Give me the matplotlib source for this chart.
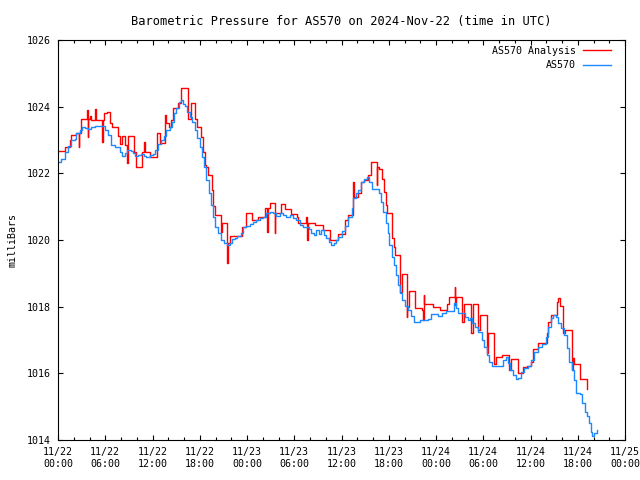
#!/usr/bin/env python3
# Barometric pressure chart for AS570, station obs vs analysis (step lines)

import matplotlib
matplotlib.use("Agg")
import matplotlib.pyplot as plt
import matplotlib.dates as mdates
import pandas as pd
import numpy as np

start = pd.Timestamp("2024-11-22 00:00")
end = pd.Timestamp("2024-11-25 00:00")

# station obs: hours after 11/22 00:00 UTC, pressure in mb
obs_hours = [0.00, 0.42, 0.85, 1.27, 1.61, 2.12, 2.33, 2.75, 3.05, 3.39, 3.81, 4.15,
             4.66, 5.80, 6.01, 6.35, 6.77, 7.20, 7.62, 7.83, 8.13, 8.47, 8.80, 9.23,
             9.52, 9.82, 10.16, 10.58, 10.92, 11.22, 11.64, 12.06, 12.36, 12.70, 13.12, 13.46,
             13.76, 14.18, 14.48, 14.73, 15.03, 15.32, 15.58, 15.83, 16.08, 16.42, 16.72, 17.06,
             17.35, 17.69, 17.99, 18.29, 18.54, 18.84, 19.13, 19.39, 19.68, 19.98, 20.32, 20.74,
             21.08, 21.50, 21.80, 22.10, 22.43, 22.77, 23.20, 23.49, 23.92, 24.34, 24.76, 25.19,
             25.61, 26.03, 26.46, 26.88, 27.30, 27.72, 28.15, 28.57, 28.99, 29.42, 29.84, 30.26,
             30.69, 31.11, 31.53, 31.83, 32.17, 32.51, 32.80, 33.10, 33.44, 33.78, 34.07, 34.37,
             34.71, 35.05, 35.34, 35.59, 36.02, 36.44, 36.86, 37.29, 37.50, 37.79, 38.13, 38.47,
             38.89, 39.23, 39.49, 39.83, 40.46, 40.76, 41.01, 41.31, 41.60, 41.86, 42.07, 42.37,
             42.62, 42.87, 43.13, 43.42, 43.72, 44.06, 44.40, 44.82, 45.16, 45.54, 45.96, 46.51,
             47.02, 47.36, 47.87, 48.29, 48.72, 49.27, 49.90, 50.24, 50.49, 50.83, 51.25, 51.68,
             52.02, 52.31, 52.61, 52.95, 53.37, 53.79, 54.13, 54.43, 54.73, 55.06, 56.21, 56.55,
             56.84, 57.10, 57.39, 57.82, 58.11, 58.45, 58.79, 59.21, 59.64, 60.06, 60.48, 60.99,
             61.50, 61.92, 62.26, 62.60, 62.90, 63.23, 63.53, 63.87, 64.29, 64.59, 64.88, 65.22,
             65.48, 65.73, 66.28, 66.58, 66.92, 67.21, 67.47, 67.68, 67.85, 68.10, 68.40]
obs_mb = [1022.35, 1022.42, 1022.65, 1022.82, 1023.00, 1023.02, 1023.20, 1023.30, 1023.40, 1023.37, 1023.32, 1023.40,
          1023.42, 1023.42, 1023.30, 1023.15, 1022.85, 1022.80, 1022.78, 1022.65, 1022.52, 1022.60, 1022.70, 1022.68,
          1022.60, 1022.52, 1022.55, 1022.58, 1022.52, 1022.48, 1022.55, 1022.58, 1022.70, 1022.88, 1023.00, 1023.12,
          1023.30, 1023.40, 1023.55, 1023.80, 1023.95, 1024.15, 1024.20, 1024.08, 1024.02, 1023.85, 1023.70, 1023.55,
          1023.30, 1023.05, 1022.80, 1022.50, 1022.20, 1021.80, 1021.40, 1021.05, 1020.70, 1020.40, 1020.20, 1020.00,
          1019.90, 1019.85, 1019.92, 1020.02, 1020.05, 1020.12, 1020.22, 1020.40, 1020.42, 1020.48, 1020.55, 1020.60,
          1020.65, 1020.70, 1020.80, 1020.85, 1020.80, 1020.72, 1020.80, 1020.75, 1020.70, 1020.75, 1020.65, 1020.60,
          1020.45, 1020.38, 1020.40, 1020.32, 1020.22, 1020.15, 1020.30, 1020.18, 1020.30, 1020.15, 1020.05, 1019.95,
          1019.85, 1019.92, 1020.00, 1020.10, 1020.28, 1020.42, 1020.70, 1020.95, 1021.25, 1021.40, 1021.50, 1021.75,
          1021.82, 1021.90, 1021.75, 1021.52, 1021.52, 1021.40, 1021.15, 1020.85, 1020.50, 1020.20, 1019.85, 1019.50,
          1019.25, 1018.95, 1018.65, 1018.40, 1018.20, 1018.02, 1017.90, 1017.72, 1017.55, 1017.55, 1017.60, 1017.60,
          1017.62, 1017.78, 1017.78, 1017.72, 1017.80, 1017.88, 1017.88, 1018.10, 1017.95, 1017.80, 1017.80, 1017.70,
          1017.60, 1017.65, 1017.50, 1017.40, 1017.25, 1017.00, 1016.80, 1016.55, 1016.35, 1016.22, 1016.22, 1016.40,
          1016.50, 1016.30, 1016.10, 1015.95, 1015.82, 1015.85, 1016.05, 1016.15, 1016.22, 1016.40, 1016.65, 1016.80,
          1016.88, 1017.10, 1017.40, 1017.65, 1017.75, 1017.70, 1017.50, 1017.35, 1017.15, 1016.75, 1016.35, 1016.10,
          1015.80, 1015.42, 1015.38, 1015.10, 1014.85, 1014.72, 1014.50, 1014.25, 1014.12, 1014.22, 1014.30]

# analysis: hours after 11/22 00:00 UTC, pressure in mb
ana_hours = [0.00, 0.93, 1.48, 1.69, 2.33, 2.62, 2.71, 2.88, 3.72, 3.77, 3.81, 4.02,
             4.23, 4.74, 4.78, 5.63, 5.67, 5.80, 6.26, 6.56, 6.86, 7.62, 7.83, 8.13,
             8.47, 8.80, 8.89, 9.65, 9.95, 10.67, 10.92, 11.09, 11.64, 12.61, 12.91, 13.55,
             13.76, 14.10, 14.39, 14.60, 15.24, 15.66, 16.51, 16.85, 17.44, 17.69, 18.12, 18.41,
             18.62, 18.84, 19.05, 19.56, 19.68, 19.89, 20.66, 20.83, 21.50, 21.55, 21.80, 23.37,
             23.92, 24.68, 25.40, 26.33, 26.58, 26.67, 26.88, 27.51, 27.60, 28.28, 28.87, 29.55,
             30.39, 30.48, 31.53, 31.66, 31.75, 32.59, 33.65, 34.50, 35.56, 36.44, 36.78, 37.50,
             37.54, 38.05, 38.47, 38.89, 39.40, 39.74, 40.46, 40.50, 40.76, 41.10, 41.43, 41.65,
             41.73, 42.45, 42.62, 42.79, 43.42, 43.64, 44.27, 44.31, 44.57, 45.33, 46.26, 46.38,
             46.46, 46.51, 47.66, 48.50, 49.35, 49.65, 50.41, 50.45, 50.58, 51.25, 51.59, 52.40,
             52.65, 53.37, 53.58, 54.43, 54.64, 55.36, 55.57, 56.42, 57.27, 57.52, 58.37, 59.09,
             59.51, 60.06, 60.36, 60.99, 62.05, 62.26, 62.60, 63.32, 63.53, 63.78, 64.17, 64.34,
             65.31, 65.43, 65.56, 66.28, 67.13, 67.21]
ana_mb = [1022.68, 1022.80, 1023.00, 1023.15, 1023.20, 1022.80, 1023.20, 1023.62, 1023.90, 1023.08, 1023.62, 1023.72,
          1023.60, 1023.92, 1023.60, 1022.95, 1023.60, 1023.80, 1023.83, 1023.52, 1023.40, 1023.12, 1022.88, 1023.12,
          1022.85, 1022.30, 1023.12, 1022.65, 1022.18, 1022.65, 1022.95, 1022.65, 1022.48, 1023.22, 1022.90, 1023.75,
          1023.50, 1023.40, 1023.60, 1023.95, 1024.10, 1024.55, 1023.62, 1024.10, 1023.62, 1023.40, 1023.08, 1022.65,
          1022.25, 1022.20, 1021.95, 1021.50, 1021.02, 1020.75, 1020.25, 1020.52, 1019.32, 1019.92, 1020.12, 1020.40,
          1020.80, 1020.60, 1020.68, 1020.95, 1020.25, 1020.95, 1021.10, 1020.22, 1020.82, 1021.08, 1020.92, 1020.78,
          1020.70, 1020.52, 1020.70, 1020.00, 1020.52, 1020.45, 1020.30, 1020.00, 1020.18, 1020.60, 1020.75, 1021.75,
          1021.30, 1021.40, 1021.75, 1021.80, 1021.95, 1022.35, 1021.65, 1022.20, 1022.12, 1021.82, 1021.45, 1021.05,
          1020.80, 1020.05, 1019.80, 1019.55, 1018.45, 1018.98, 1017.70, 1018.00, 1018.48, 1017.95, 1017.90, 1017.60,
          1018.35, 1018.07, 1017.98, 1017.90, 1018.08, 1018.30, 1018.60, 1018.05, 1018.30, 1017.55, 1018.07, 1017.22,
          1018.07, 1017.30, 1017.75, 1016.60, 1017.20, 1016.28, 1016.48, 1016.55, 1016.10, 1016.42, 1016.00, 1016.18,
          1016.22, 1016.35, 1016.72, 1016.90, 1017.20, 1017.55, 1017.75, 1018.15, 1018.25, 1018.02, 1017.20, 1017.30,
          1016.10, 1016.45, 1016.28, 1015.82, 1015.52, 1015.52]

title = "Barometric Pressure for AS570 on 2024-Nov-22 (time in UTC)"
ylabel = "milliBars"
yticks = [1014, 1016, 1018, 1020, 1022, 1024, 1026]


def to_times(hours):
    return start + pd.to_timedelta(np.array(hours), unit="h")


def main():
    plt.rcParams.update({"font.family": "DejaVu Sans Mono", "font.size": 7.2})

    fig = plt.figure(figsize=(6.4, 4.8), dpi=100)
    ax = fig.add_axes([58 / 640, 40 / 480, 567 / 640, 400 / 480])

    ax.plot(to_times(ana_hours), ana_mb, drawstyle="steps-post",
            color="#ff0000", lw=1.0, label="AS570 Analysis")
    ax.plot(to_times(obs_hours), obs_mb, drawstyle="steps-post",
            color="#1e88ff", lw=1.0, label="AS570")

    ax.set_xlim(start, end)
    ax.set_ylim(1014, 1026)
    ax.set_yticks(yticks)
    ax.set_yticklabels([str(v) for v in yticks])

    ax.xaxis.set_major_locator(mdates.HourLocator(byhour=range(0, 24, 6)))
    ax.xaxis.set_minor_locator(mdates.HourLocator(byhour=range(0, 24, 2)))
    ax.xaxis.set_major_formatter(mdates.DateFormatter("%m/%d\n%H:%M"))

    ax.tick_params(which="both", direction="in", top=True, right=True,
                   width=0.8, color="black")
    ax.tick_params(which="major", length=3.5, pad=5)
    ax.tick_params(which="minor", length=2)
    for lab in ax.get_xticklabels():
        lab.set_linespacing(1.3)

    for sp in ax.spines.values():
        sp.set_linewidth(0.8)

    ax.set_title(title, pad=11)
    ax.set_ylabel(ylabel, labelpad=7)

    # legend: label then line sample, right aligned like gnuplot
    ax.legend(loc="upper right", bbox_to_anchor=(0.975, 0.986),
              frameon=False, markerfirst=False,
              handlelength=2.8, handletextpad=0.7, labelspacing=0.45,
              borderaxespad=0.0, borderpad=0.0, fontsize=7.2)

    fig.savefig("out.png", dpi=100)
    plt.close(fig)


if __name__ == "__main__":
    main()
